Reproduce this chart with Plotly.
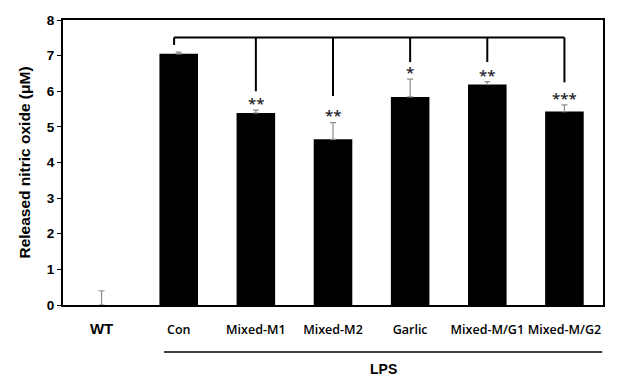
import plotly.graph_objects as go

categories = ["WT", "Con", "Mixed-M1", "Mixed-M2", "Garlic", "Mixed-M/G1", "Mixed-M/G2"]
values = [0.0, 7.05, 5.39, 4.65, 5.84, 6.19, 5.43]
errors = [0.40, 0.05, 0.08, 0.47, 0.50, 0.08, 0.19]
stars = ["", "", "**", "**", "*", "**", "***"]
drop_ends = [None, 7.30, 6.00, 5.87, 6.82, 6.82, 6.25]
bracket_level = 7.51
y_ticks = [0, 1, 2, 3, 4, 5, 6, 7, 8]

fig = go.Figure()
fig.add_trace(go.Bar(
    x=categories, y=values,
    marker=dict(color="black", line=dict(width=0)),
    width=0.5,
    error_y=dict(type="data", array=errors, arrayminus=[0] * len(errors),
                 symmetric=False, color="#8c8c8c", thickness=1.2, width=3),
))

shapes = []
idx = list(range(len(categories)))
first = next(i for i, d in enumerate(drop_ends) if d is not None)
last = max(i for i, d in enumerate(drop_ends) if d is not None)
shapes.append(dict(type="line", xref="x", yref="y", x0=idx[first] - 0.06, x1=idx[last],
                   y0=bracket_level, y1=bracket_level, line=dict(color="black", width=2)))
for i, d in enumerate(drop_ends):
    if d is None:
        continue
    xx = idx[i] - 0.06 if i == first else idx[i]
    shapes.append(dict(type="line", xref="x", yref="y", x0=xx, x1=xx,
                       y0=bracket_level, y1=d, line=dict(color="black", width=2)))

# LPS underline
shapes.append(dict(type="line", xref="x", yref="paper", x0=0.81, x1=6.49,
                   y0=-0.165, y1=-0.165, line=dict(color="black", width=1.5)))

annotations = []
for i, s in enumerate(stars):
    if s:
        annotations.append(dict(x=categories[i], y=values[i] + errors[i] + 0.2, text=s,
                                showarrow=False, yanchor="middle",
                                font=dict(family="Open Sans", size=15, color="#1c1c2a",
                                          weight=600)))
annotations.append(dict(x=3.65, xref="x", y=-0.19, yref="paper", text="<b>LPS</b>",
                        showarrow=False, yanchor="top",
                        font=dict(family="Liberation Sans", size=14, color="black")))

fig.update_layout(
    width=635, height=372,
    margin=dict(l=55, r=40, t=5, b=75),
    paper_bgcolor="white", plot_bgcolor="white",
    showlegend=False,
    shapes=shapes, annotations=annotations,
    xaxis=dict(
        tickmode="array", tickvals=categories,
        ticktext=['<span style="font-size:15px;font-family:Liberation Sans"><b>WT</b></span>']
                 + categories[1:],
        tickfont=dict(family="Open Sans", size=12.5, color="black", weight=600),
        tickangle=0,
        showline=True, linecolor="black", linewidth=2, mirror=True,
        ticks="", showgrid=False, ticklabelstandoff=12,
    ),
    yaxis=dict(
        range=[0, 8], tickvals=y_ticks,
        ticktext=[f"<b>{t}</b>" for t in y_ticks],
        tickfont=dict(family="Liberation Sans", size=13.5, color="black"),
        ticklabeloverflow="allow",
        showline=True, linecolor="black", linewidth=2, mirror=True,
        ticks="outside", ticklen=4, tickcolor="black", showgrid=False, zeroline=False,
        title=dict(text="<b>Released nitric oxide (μM)</b>",
                   font=dict(family="Liberation Sans", size=15.5, color="black"), standoff=12),
    ),
)

fig.write_html("out.html")
